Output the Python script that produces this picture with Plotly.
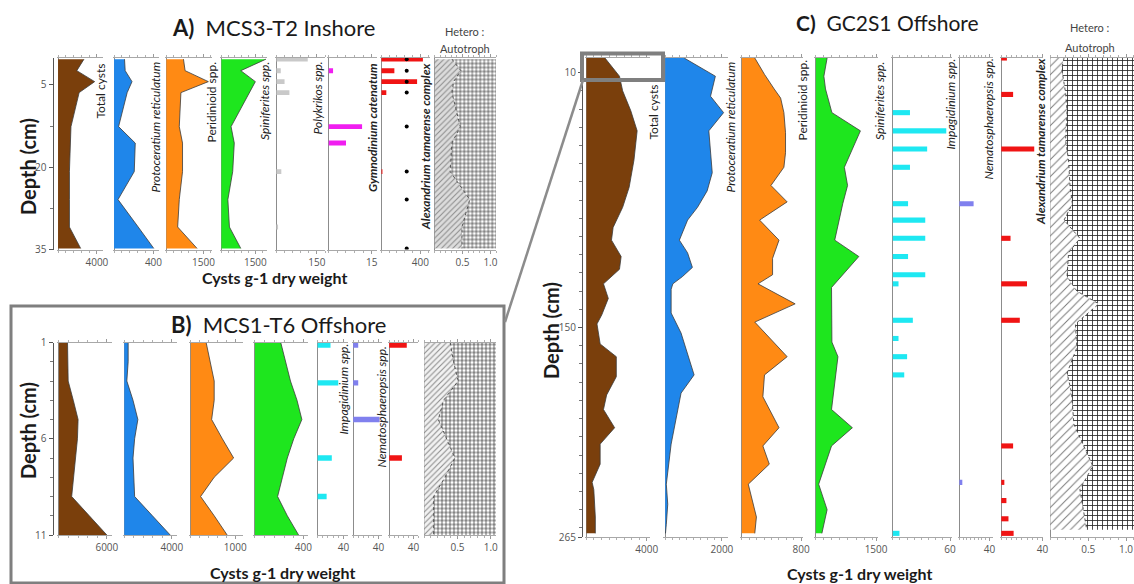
import plotly.graph_objects as go

W, H = 1134, 584

# ================= DATA =================
# Panel A : MCS3-T2 Inshore
a_depth = [0.3, 2.4, 4.4, 6.4, 12.6, 15.6, 20.8, 25.9, 30.9, 34.8]
a_total = [2670, 1930, 3770, 2170, 1330, 1270, 1170, 1170, 1170, 2330]
a_proto = [106, 113, 182, 133, 46, 215, 205, 40, 245, 403]
a_peri = [690, 756, 1694, 587, 521, 652, 652, 521, 456, 1238]
a_spin = [1970, 857, 1500, 1240, 428, 570, 500, 287, 356, 857]
a_ratio = [0.31, 0.47, 0.34, 0.31, 0.46, 0.31, 0.28, 0.63, 0.49, 0.49]
a_poly_depth = [0.3, 2.4, 4.4, 6.4, 20.8, 30.9]
a_poly = [116, 16, 30, 48, 18, 6]
a_gymno_depth = [2.4, 12.6, 15.6]
a_gymno = [1.5, 11.6, 6.0]
a_alex_depth = [0.3, 2.4, 4.4, 6.4, 20.8]
a_alex = [427, 133, 367, 50, 10]
a_dot_depth = [0.3, 2.4, 4.4, 6.4, 12.6, 20.8, 25.9, 34.8]
a_dot_x = [260, 260, 260, 260, 260, 260, 260, 260]

# Panel B : MCS1-T6 Offshore
b_depth = [1, 2, 3, 4, 5, 6, 7, 8, 9, 10, 11]
b_total = [1080, 1080, 1160, 1800, 2400, 2320, 2080, 1800, 1600, 3800, 6000]
b_proto = [326, 326, 214, 734, 1142, 870, 734, 800, 870, 2366, 3860]
b_peri = [344, 438, 526, 526, 468, 709, 964, 526, 219, 526, 818]
b_spin = [213, 253, 293, 347, 387, 320, 267, 227, 187, 267, 360]
b_ratio = [0.39, 0.44, 0.51, 0.29, 0.21, 0.34, 0.46, 0.31, 0.14, 0.14, 0.14]
b_imp_depth = [1.13, 3.1, 7.0, 9.0]
b_imp = [20, 32, 22, 14]
b_nem_depth = [1.13, 3.1, 5.0]
b_nem = [8, 8, 42]
b_alex_depth = [1.13, 7.0]
b_alex = [29, 21]

# Panel C : GC2S1 Offshore
c_total_d = [2, 12, 20, 31, 42, 58, 73, 84, 95, 102, 111, 118, 126, 134, 143, 148, 159, 166, 177,
             187, 195, 205, 214, 225, 235, 239, 254, 263]
c_total_v = [1230, 2190, 2400, 2940, 3360, 3150, 2830, 2400, 1770, 1660, 2300, 2190, 1130, 1450, 1020,
             700, 910, 1980, 1980, 1340, 1130, 1870, 910, 910, 380, 490, 590, 590]
c_proto_d = [2, 12, 23, 32, 42, 65, 75, 84, 91, 102, 109, 117, 122, 126, 129, 142, 153, 176, 186,
             214, 236, 247, 258, 263]
c_proto_v = [670, 1770, 1600, 2060, 1540, 1660, 1480, 1140, 790, 500, 790, 960, 610, 270, 210, 210,
             560, 1020, 560, 210, 40, 90, 40, 10]
c_peri_d = [2, 11, 19, 24, 32, 43, 54, 62, 72, 81, 91, 102, 112, 121, 126, 137, 147, 166, 176, 188,
            205, 215, 225, 236, 254, 263]
c_peri_v = [175, 306, 437, 524, 568, 590, 590, 568, 393, 612, 240, 502, 415, 415, 218, 720, 175, 612,
            306, 284, 502, 284, 371, 87, 197, 175]
c_spin_d = [2, 12, 19, 32, 42, 62, 72, 82, 102, 111, 128, 158, 166, 195, 205, 215, 236, 250, 263]
c_spin_v = [280, 200, 240, 400, 1110, 710, 790, 670, 470, 1070, 390, 400, 550, 390, 910, 390, 70, 280, 150]
c_imp_d = [32, 42, 52, 62, 82, 91, 101, 111, 121, 126, 146, 156, 166, 176, 263]
c_imp_v = [18, 56, 36, 18, 16, 34, 34, 16, 34, 6, 21, 6, 15, 12, 7]
c_nem_d = [82, 235]
c_nem_v = [19, 4]
c_alex_d = [2, 22, 52, 101, 126, 146, 215, 235, 245, 255, 263]
c_alex_v = [5.5, 11.5, 32, 9, 25, 18, 11.5, 3, 5, 7, 12]
c_ratio_d = [2, 8, 21, 31, 47, 58, 73, 82, 91, 101, 109, 122, 130, 137, 148, 161, 175, 186, 203, 215,
             226, 239, 261]
c_ratio_v = [0.18, 0.15, 0.2, 0.22, 0.2, 0.24, 0.26, 0.29, 0.18, 0.39, 0.24, 0.22, 0.35, 0.64, 0.33,
             0.35, 0.22, 0.28, 0.31, 0.44, 0.56, 0.39, 0.48]

# colours
BROWN, BLUE, ORANGE, GREEN = '#7a3f0c', '#1f86ea', '#ff8a14', '#1ee61e'
GRAYBAR, MAGENTA, RED, CYAN, PURPLE = '#c9c9c9', '#f01ef0', '#f01414', '#1ee8f2', '#8080ee'

# ================= FIGURE =================
fig = go.Figure()
layout = dict(template='none', width=W, height=H, margin=dict(l=0, r=0, t=0, b=0, pad=0),
              autosize=False, paper_bgcolor='white', plot_bgcolor='white', showlegend=False,
              barmode='overlay', hovermode=False)
TICKFONT = dict(family='Open Sans', size=10, color='#555555')
FONT = 'Lato'


def fx(p):
    return p / W


def fy(p):
    return 1 - p / H


def add_yaxis(key, top, bottom, rng, pos, tickvals, mdt, mt0):
    layout[key] = dict(domain=[fy(bottom), fy(top)], range=rng, anchor='free', position=fx(pos),
                       automargin=False,
                       showline=True, linecolor='#555555', linewidth=1.2, ticks='outside', ticklen=4,
                       tickcolor='#555555', tickvals=tickvals, ticktext=[str(v) for v in tickvals],
                       tickfont=TICKFONT, showgrid=False, zeroline=False,
                       minor=dict(ticks='outside', ticklen=3, tickcolor='#777777', dtick=mdt, tick0=mt0))


xcount = [0]


def add_xaxis(yname, x0, x1, xmax, tickvals, ticktext, mdt, lo=-0.03):
    xcount[0] += 1
    n = xcount[0]
    key = 'xaxis' if n == 1 else 'xaxis%d' % n
    layout[key] = dict(domain=[fx(x0), fx(x1)], range=[lo * xmax, xmax], anchor=yname,
                       automargin=False,
                       showline=True, linecolor='#a8a8a8', linewidth=1, mirror='ticks',
                       zeroline=True, zerolinecolor='#8c8c8c', zerolinewidth=1, showgrid=False,
                       tickvals=tickvals, ticktext=ticktext, ticks='outside', ticklen=3,
                       tickcolor='#9a9a9a', tickfont=TICKFONT,
                       minor=dict(ticks='outside', ticklen=2, tickcolor='#b0b0b0', dtick=mdt))
    return 'x' if n == 1 else 'x%d' % n


def area(xa, ya, d, v, color):
    fig.add_trace(go.Scatter(x=v, y=d, xaxis=xa, yaxis=ya, mode='lines', fill='tozerox',
                             fillcolor=color, line=dict(color='#3b3b3b', width=0.8)))


def bars(xa, ya, d, v, color, w):
    fig.add_trace(go.Bar(x=v, y=d, orientation='h', width=w, xaxis=xa, yaxis=ya,
                         marker=dict(color=color, line=dict(width=0))))


def hetero(xa, ya, d, r, xmax, bg, fg, hsize, hsol, gsize):
    fig.add_trace(go.Scatter(x=r, y=d, xaxis=xa, yaxis=ya, mode='lines', fill='tozerox',
                             fillcolor=bg,
                             fillpattern=dict(shape='/', fgcolor=fg, bgcolor=bg, size=hsize, solidity=hsol),
                             line=dict(color='#444444', width=0.9, dash='dot')))
    fig.add_trace(go.Scatter(x=[xmax for _ in d], y=d, xaxis=xa, yaxis=ya, mode='lines',
                             fill='tonextx', fillcolor='white',
                             fillpattern=dict(shape='+', fgcolor='#222222', bgcolor='white', size=gsize,
                                              solidity=0.3),
                             line=dict(width=0)))


# ---------- Panel A ----------
add_yaxis('yaxis', 57.5, 249.5, [35, 0], 52.5, [5, 20, 35], 7.5, 5)
ya = 'y'
x = add_xaxis(ya, 56.7, 103.3, 4660, [4000], ['4000'], 800); area(x, ya, a_depth, a_total, BROWN)
x = add_xaxis(ya, 112.7, 159.3, 459, [400], ['400'], 80); area(x, ya, a_depth, a_proto, BLUE)
x = add_xaxis(ya, 165, 211.7, 1829, [1500], ['1500'], 300); area(x, ya, a_depth, a_peri, ORANGE)
x = add_xaxis(ya, 220, 267, 2014, [1500], ['1500'], 300); area(x, ya, a_depth, a_spin, GREEN)
x = add_xaxis(ya, 275, 325, 180, [150], ['150'], 30); bars(x, ya, a_poly_depth, a_poly, GRAYBAR, 0.9)
x = add_xaxis(ya, 327.3, 377.3, 16.9, [15], ['15'], 3); bars(x, ya, a_gymno_depth, a_gymno, MAGENTA, 0.9)
x = add_xaxis(ya, 380, 430, 500, [400], ['400'], 80); bars(x, ya, a_alex_depth, a_alex, RED, 0.9)
fig.add_trace(go.Scatter(x=a_dot_x, y=a_dot_depth, xaxis=x, yaxis=ya, mode='markers',
                         marker=dict(color='black', size=4)))
x = add_xaxis(ya, 434.3, 496, 1.1, [0.5, 1.0], ['0.5', '1.0'], 0.1, lo=-0.005)
hetero(x, ya, a_depth, a_ratio, 1.1, '#dcdcdc', '#8a8a8a', 4, 0.25, 4)

# ---------- Panel B ----------
add_yaxis('yaxis2', 342.5, 535, [11, 1], 52.5, [1, 6, 11], 1, 1)
yb = 'y2'
x = add_xaxis(yb, 57.3, 112, 6644, [6000], ['6000'], 1200); area(x, yb, b_depth, b_total, BROWN)
x = add_xaxis(yb, 122.7, 177, 4433, [4000], ['4000'], 800); area(x, yb, b_depth, b_proto, BLUE)
x = add_xaxis(yb, 189.3, 243.3, 1182, [1000], ['1000'], 200); area(x, yb, b_depth, b_peri, ORANGE)
x = add_xaxis(yb, 253.3, 308.3, 440, [400], ['400'], 80); area(x, yb, b_depth, b_spin, GREEN)
x = add_xaxis(yb, 316.7, 347.5, 46.3, [40], ['40'], 8); bars(x, yb, b_imp_depth, b_imp, CYAN, 0.28)
x = add_xaxis(yb, 352.3, 382.3, 46.2, [40], ['40'], 8); bars(x, yb, b_nem_depth, b_nem, PURPLE, 0.28)
x = add_xaxis(yb, 388.3, 418.3, 48, [40], ['40'], 8); bars(x, yb, b_alex_depth, b_alex, RED, 0.28)
x = add_xaxis(yb, 424, 496, 1.08, [0.5, 1.0], ['0.5', '1.0'], 0.1, lo=-0.005)
hetero(x, yb, b_depth, b_ratio, 1.08, '#f2f2f2', '#8a8a8a', 4, 0.25, 4)

# ---------- Panel C ----------
add_yaxis('yaxis3', 58, 537, [265, 2], 582, [10, 150, 265], 10, 10)
yc = 'y3'
x = add_xaxis(yc, 584.5, 650, 4212, [4000], ['4000'], 500); area(x, yc, c_total_d, c_total_v, BROWN)
x = add_xaxis(yc, 663.3, 728, 2216, [2000], ['2000'], 250); area(x, yc, c_proto_d, c_proto_v, BLUE)
x = add_xaxis(yc, 740, 803, 826, [800], ['800'], 100); area(x, yc, c_peri_d, c_peri_v, ORANGE)
x = add_xaxis(yc, 814, 878, 1548, [1500], ['1500'], 200); area(x, yc, c_spin_d, c_spin_v, GREEN)
x = add_xaxis(yc, 891, 952, 62, [60], ['60'], 7.5); bars(x, yc, c_imp_d, c_imp_v, CYAN, 2.8)
x = add_xaxis(yc, 958.3, 993, 44.8, [40], ['40'], 5); bars(x, yc, c_nem_d, c_nem_v, PURPLE, 2.8)
x = add_xaxis(yc, 1000, 1043, 40.5, [40], ['40'], 5); bars(x, yc, c_alex_d, c_alex_v, RED, 2.8)
x = add_xaxis(yc, 1050, 1134, 1.105, [0.5, 1.0], ['0.5', '1.0'], 0.1, lo=-0.005)
hetero(x, yc, c_ratio_d, c_ratio_v, 1.105, '#ffffff', '#777777', 6, 0.16, 5)

# ================= TEXT =================
ann = []


def text(t, xp, yp, size, color='#1a1a1a', angle=0, xanchor='center', yanchor='middle', family=FONT):
    ann.append(dict(text=t, x=fx(xp), y=fy(yp), xref='paper', yref='paper', showarrow=False,
                    textangle=angle, xanchor=xanchor, yanchor=yanchor,
                    font=dict(family=family, size=size, color=color)))


# titles
text('<b>A)</b>  MCS3-T2 Inshore', 273, 28, 22)
text('<b>B)</b>  MCS1-T6 Offshore', 278, 325, 22)
text('<b>C)</b>  GC2S1 Offshore', 887, 22, 21)
# depth axis titles
for xp, yp in [(28, 167), (28, 431), (551, 331)]:
    text('<b>Depth (cm)</b>', xp, yp, 20, angle=-90)
# x axis titles
text('<b>Cysts g-1 dry weight</b>', 274, 277, 16)
text('<b>Cysts g-1 dry weight</b>', 282, 572, 16)
text('<b>Cysts g-1 dry weight</b>', 859, 573, 16)
# hetero : autotroph headers
text('Hetero :', 465, 31, 11, color='#444444')
text('Autotroph', 465, 48, 11, color='#444444')
text('Hetero :', 1090, 27, 11, color='#444444')
text('Autotroph', 1090, 47, 11, color='#444444')

# rotated column labels (text, x, top y, style)
col_labels = [
    ('Total cysts', 100, 62, ''), ('Protoceratium reticulatum', 155, 60, 'i'),
    ('Peridinioid spp.', 211, 60, ''), ('Spiniferites spp.', 265, 60, 'i'),
    ('Polykrikos spp.', 317, 60, 'i'), ('Gymnodinium catenatum', 373, 62, 'bi'),
    ('Alexandrium tamarense complex', 425, 62, 'bi'),
    ('Impagidinium spp.', 343, 342, 'i'), ('Nematosphaeropsis spp.', 381, 345, 'i'),
    ('Total cysts', 653, 83, ''), ('Protoceratium reticulatum', 730, 60, 'i'),
    ('Peridinioid spp.', 802, 58, ''), ('Spiniferites spp.', 880, 60, 'i'),
    ('Impagidinium spp.', 950, 57, 'i'), ('Nematosphaeropsis spp.', 988, 57, 'i'),
    ('Alexandrium tamarense complex', 1040, 57, 'bi'),
]
for t, xp, yp, st in col_labels:
    s = t
    if 'i' in st:
        s = '<i>%s</i>' % s
    if 'b' in st:
        s = '<b>%s</b>' % s
    text(s, xp, yp, 12, color='#222222', angle=-90, yanchor='top')

layout['annotations'] = ann

# decorative frames
layout['shapes'] = [
    dict(type='rect', xref='paper', yref='paper', x0=fx(11), x1=fx(504), y0=fy(583), y1=fy(306),
         line=dict(color='#7f7f7f', width=3)),
    dict(type='rect', xref='paper', yref='paper', x0=fx(582), x1=fx(663), y0=fy(80), y1=fy(53.5),
         line=dict(color='#7f7f7f', width=4)),
    dict(type='line', xref='paper', yref='paper', x0=fx(505), y0=fy(322), x1=fx(583), y1=fy(80),
         line=dict(color='#8c8c8c', width=2.5)),
]

fig.update_layout(**layout)
fig.write_html('out.html', config={'displayModeBar': False, 'staticPlot': True},
               post_script="document.body.style.margin='0';document.body.style.overflow='hidden';")
